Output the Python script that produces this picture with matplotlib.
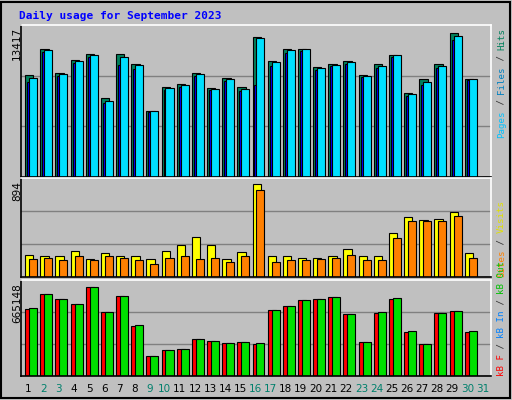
import numpy as np
import matplotlib.pyplot as plt
from matplotlib.patches import Rectangle

days = list(range(1, 32))
weekend = [2, 3, 9, 10, 16, 17, 23, 24, 30, 31]

hits = [9250, 11643, 9427, 10668, 11200, 7210, 11200, 10313, 5969, 8185, 8451, 9427, 8097, 8983, 8185,
        12707, 10579, 11643, 11643, 9958, 10313, 10579, 9250, 10313, 11111, 7653, 8895, 10313, 13061, 8895, 0]
files = [8983, 11554, 9338, 10579, 11111, 6944, 10934, 10224, 5969, 8097, 8363, 9338, 8008, 8895, 8008,
         12618, 10490, 11554, 11643, 9870, 10224, 10490, 9161, 10136, 11111, 7565, 8629, 10136, 12795, 8895, 0]
pages = [8600, 11400, 9200, 10400, 10900, 6700, 10200, 9800, 5900, 7950, 8200, 9200, 7900, 8700, 7800,
         8363, 10100, 11300, 11500, 9750, 10050, 10300, 9050, 9950, 10950, 7400, 8400, 9950, 12500, 8800, 0]
visits = [207, 189, 189, 235, 170, 217, 198, 198, 170, 244, 291, 365, 291, 170, 226,
          857, 189, 189, 179, 179, 198, 254, 189, 198, 402, 551, 523, 532, 597, 217, 0]
sites = [170, 179, 161, 189, 161, 198, 179, 161, 124, 179, 198, 170, 179, 142, 189,
         801, 142, 161, 161, 170, 179, 207, 161, 161, 356, 513, 513, 513, 560, 179, 0]
kb_f = [476, 588, 546, 511, 637, 455, 574, 357, 140, 182, 196, 266, 252, 238, 245,
        231, 469, 497, 539, 553, 567, 441, 245, 448, 553, 315, 231, 448, 462, 315, 0]
kb_out = [483, 588, 546, 511, 637, 455, 574, 364, 140, 182, 196, 266, 252, 238, 245,
          238, 469, 497, 539, 553, 567, 441, 245, 455, 560, 322, 231, 448, 462, 322, 0]

GRAY = '#C0C0C0'
fig = plt.figure(figsize=(5.12, 4.0), dpi=100, facecolor=GRAY)
fig.patches.append(Rectangle((0.002, 0.004), 0.994, 0.992, transform=fig.transFigure,
                             fill=False, edgecolor='black', lw=1.5))

x = np.array(days)
L, W = 0.041, 0.918
ax1 = fig.add_axes([L, 0.5575, W, 0.38])
ax2 = fig.add_axes([L, 0.3075, W, 0.2475])
ax3 = fig.add_axes([L, 0.06, W, 0.24])

def style(ax, top):
    ax.set_facecolor(GRAY)
    ax.set_xlim(0.5, 31.5)
    ax.set_ylim(0, top)
    for s in ['top', 'right']:
        ax.spines[s].set_color('white')
    for s in ['left', 'bottom']:
        ax.spines[s].set_color('black')
    for s in ax.spines.values():
        s.set_linewidth(1.2)
    for f in (1 / 3, 2 / 3):
        ax.axhline(top * f, color='#808080', lw=1, zorder=0)
    ax.set_xticks([])
    ax.set_yticks([])

bk = dict(edgecolor='black', linewidth=0.8, align='edge')
top1 = 13417 * 1.03
ax1.bar(x - 0.23, hits, 0.55, color='#00805C', **bk)
ax1.bar(x - 0.1, pages, 0.5, color='#0000FF', **bk)
ax1.bar(x + 0.03, files, 0.53, color='#00E0FF', **bk)
style(ax1, top1)

top2 = 894 * 1.02
ax2.bar(x - 0.23, visits, 0.55, color='#FFFF00', **bk)
ax2.bar(x + 0.03, sites, 0.53, color='#FF8000', **bk)
style(ax2, top2)

top3 = 665148 / 1000 * 1.03
ax3.bar(x - 0.23, kb_f, 0.55, color='#FF0000', **bk)
ax3.bar(x + 0.03, kb_out, 0.53, color='#00E000', **bk)
style(ax3, top3)

mono = dict(family='DejaVu Sans Mono')
fig.text(19 / 512, 1 - 16 / 400, 'Daily usage for September 2023', color='#0000FF',
         fontsize=8, fontweight='bold', va='center', **mono)

for ytop, lab in [(27, '13417'), (181, '894'), (283, '665148')]:
    fig.text(12 / 512, 1 - ytop / 400, lab, rotation=90, fontsize=7.5, va='top', ha='left',
             family='DejaVu Sans')

def side(ybottom, parts):
    # stack the coloured pieces upward from ybottom (pixels from top)
    y = ybottom
    for txt, col in parts:
        fig.text(497 / 512, 1 - y / 400, txt, rotation=90, color=col, fontsize=6.6,
                 va='bottom', ha='left', **mono)
        y -= len(txt) * 5.5

side(138, [('Pages', '#00C0FF'), (' / ', '#303030'), ('Files', '#0080C0'),
           (' / ', '#303030'), ('Hits', '#00805C')])
side(277, [('Sites', '#FF8000'), (' / ', '#303030'), ('Visits', '#E0E000')])
side(376, [('kB F', '#FF0000'), (' / ', '#303030'), ('kB In', '#0080FF'),
           (' / ', '#303030'), ('kB Out', '#00C000')])

for d in days:
    col = '#00806C' if d in weekend else 'black'
    fig.text((21 + 15.13 * (d - 0.5)) / 512, 1 - 389 / 400, str(d), color=col,
             fontsize=7.5, ha='center', va='center', family='DejaVu Sans')

plt.savefig('out.png', dpi=100, facecolor=GRAY)
